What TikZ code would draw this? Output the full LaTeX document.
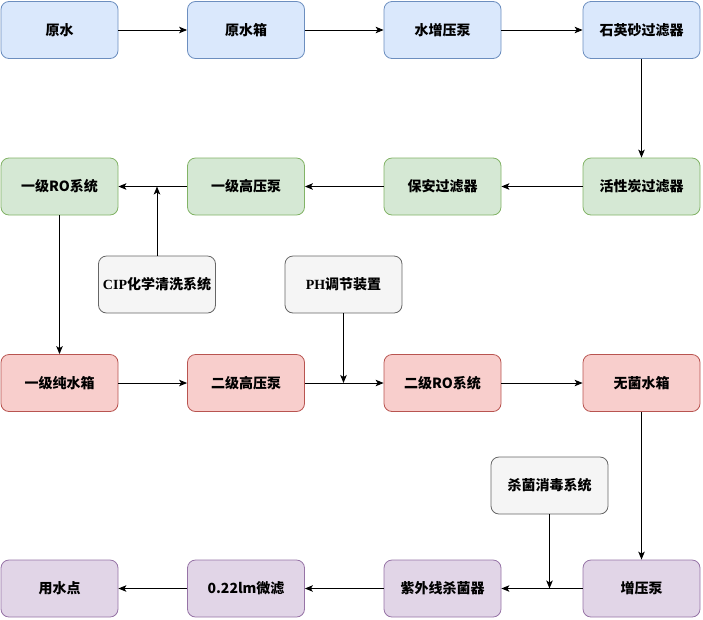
\documentclass[tikz,border=0pt]{standalone}
\usepackage{fontspec}
\setmainfont{Noto Sans CJK SC}
\newfontfamily\latn{Liberation Serif}
\usetikzlibrary{arrows,arrows.meta,shapes}
\usetikzlibrary{positioning}
\usetikzlibrary{calc}
\definecolor{blueF}{HTML}{DAE8FC}
\definecolor{blueD}{HTML}{6C8EBF}
\definecolor{greenF}{HTML}{D5E8D4}
\definecolor{greenD}{HTML}{82B366}
\definecolor{redF}{HTML}{F8CECC}
\definecolor{redD}{HTML}{B85450}
\definecolor{purpF}{HTML}{E1D5E7}
\definecolor{purpD}{HTML}{9673A6}
\definecolor{grayF}{HTML}{F5F5F5}
\definecolor{grayD}{HTML}{666666}
\tikzstyle{box}=[rectangle,rounded corners=8pt,draw,minimum width=117pt,minimum height=57pt,inner sep=0pt,line width=0.8pt,font=\fontsize{14}{16}\selectfont\bfseries]
\tikzstyle{bluebox}=[box,fill=blueF,draw=blueD]
\tikzstyle{greenbox}=[box,fill=greenF,draw=greenD]
\tikzstyle{redbox}=[box,fill=redF,draw=redD]
\tikzstyle{purpbox}=[box,fill=purpF,draw=purpD]
\tikzstyle{graybox}=[box,fill=grayF,draw=grayD]
\tikzstyle{edge} = [draw,-{Stealth[length=8pt,width=6.5pt,inset=2pt]},line width=1pt]
\begin{document}
\begin{tikzpicture}[x=1pt,y=-1pt]

  \useasboundingbox (0,0) rectangle (703,619);

     \foreach \x/\y/\name/\label in {59.5/30/a1/原水, 246/30/a2/原水箱, 442.5/30/a3/水增压泵, 641.5/30/a4/石英砂过滤器}
          \node[bluebox] (\name) at (\x,\y) {\label};

     \foreach \x/\y/\name/\label in {59.5/186.5/b1/一级RO系统, 246/186.5/b2/一级高压泵, 442.5/186.5/b3/保安过滤器, 641.5/186.5/b4/活性炭过滤器}
          \node[greenbox] (\name) at (\x,\y) {\label};

     \foreach \x/\y/\name/\label in {59.5/383/c1/一级纯水箱, 246/383/c2/二级高压泵, 442.5/383/c3/二级RO系统, 641.5/383/c4/无菌水箱}
          \node[redbox] (\name) at (\x,\y) {\label};

     \foreach \x/\y/\name/\label in {59.5/588.5/d1/用水点, 246/588.5/d2/0.22lm微滤, 442.5/588.5/d3/紫外线杀菌器, 641.5/588.5/d4/增压泵}
          \node[purpbox] (\name) at (\x,\y) {\label};

     \foreach \x/\y/\name/\label in {157/284.5/cip/{{\latn CIP}化学清洗系统}, 343.5/284.5/ph/{{\latn PH}调节装置}, 549.5/485.5/sj/杀菌消毒系统}
          \node[graybox] (\name) at (\x,\y) {\label};

%  main flow
    \foreach \source/\dest in {a1/a2, a2/a3, a3/a4, a4/b4, b4/b3, b3/b2, b2/b1, b1/c1, c1/c2, c2/c3, c3/c4, c4/d4, d4/d3, d3/d2, d2/d1}
         \draw[edge] (\source) -- (\dest);

%  side inputs
    \draw[edge] (cip) -- (cip |- b1);
    \draw[edge] (ph) -- (ph |- c2);
    \draw[edge] (sj) -- (sj |- d4);

\end{tikzpicture}
\end{document}
